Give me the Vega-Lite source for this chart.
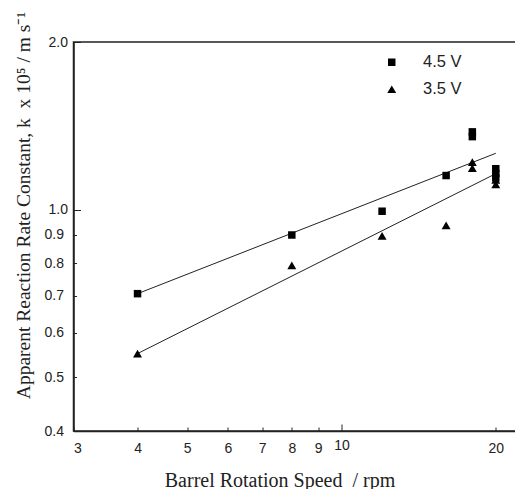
{
  "$schema": "https://vega.github.io/schema/vega-lite/v6.json",
  "width": 443.5,
  "height": 389,
  "autosize": {"type": "none"},
  "padding": {"left": 73.5, "top": 42, "right": 0, "bottom": 58},
  "background": "white",
  "config": {
    "view": {"stroke": "#222", "strokeWidth": 1.5},
    "axis": {
      "domainColor": "#222",
      "domainWidth": 1.5,
      "ticks": true,
      "tickColor": "#222",
      "tickWidth": 1,
      "grid": false,
      "labelFont": "Liberation Sans",
      "labelFontSize": 14,
      "labelColor": "#222",
      "titleFont": "Liberation Serif",
      "titleFontWeight": "normal",
      "titleColor": "#222"
    }
  },
  "datasets": {
    "points": [
      {"series": "4.5 V", "rpm": 4, "k": 0.706},
      {"series": "4.5 V", "rpm": 8, "k": 0.90},
      {"series": "4.5 V", "rpm": 12, "k": 0.993},
      {"series": "4.5 V", "rpm": 16, "k": 1.151},
      {"series": "4.5 V", "rpm": 18, "k": 1.379},
      {"series": "4.5 V", "rpm": 18, "k": 1.352},
      {"series": "4.5 V", "rpm": 20, "k": 1.184},
      {"series": "4.5 V", "rpm": 20, "k": 1.16},
      {"series": "4.5 V", "rpm": 20, "k": 1.14},
      {"series": "3.5 V", "rpm": 4, "k": 0.551},
      {"series": "3.5 V", "rpm": 8, "k": 0.794},
      {"series": "3.5 V", "rpm": 12, "k": 0.897},
      {"series": "3.5 V", "rpm": 16, "k": 0.937},
      {"series": "3.5 V", "rpm": 18, "k": 1.217},
      {"series": "3.5 V", "rpm": 18, "k": 1.187},
      {"series": "3.5 V", "rpm": 20, "k": 1.13},
      {"series": "3.5 V", "rpm": 20, "k": 1.11}
    ],
    "fits": [
      {"series": "4.5 V", "rpm": 4, "k": 0.706},
      {"series": "4.5 V", "rpm": 20, "k": 1.262},
      {"series": "3.5 V", "rpm": 4, "k": 0.551},
      {"series": "3.5 V", "rpm": 20, "k": 1.16}
    ]
  },
  "encoding": {
    "x": {
      "field": "rpm",
      "type": "quantitative",
      "scale": {"type": "log", "domain": [3, 22], "nice": false},
      "axis": {
        "title": "Barrel Rotation Speed\u00a0 / rpm",
        "titleFontSize": 20,
        "values": [3, 4, 5, 6, 7, 8, 9, 10, 20],
        "format": "d",
        "tickSize": {"condition": {"test": "datum.value === 10", "value": -7}, "value": -4},
        "labelPadding": 14,
        "titleX": 206,
        "titleY": 55,
        "titleBaseline": "alphabetic",
        "titleAnchor": "middle",
        "titleAlign": "center"
      }
    },
    "y": {
      "field": "k",
      "type": "quantitative",
      "scale": {"type": "log", "domain": [0.4, 2.0], "nice": false},
      "axis": {
        "title": "Apparent Reaction Rate Constant, k\u00a0 x 10⁵ / m s⁻¹",
        "titleFontSize": 19.5,
        "values": [0.4, 0.5, 0.6, 0.7, 0.8, 0.9, 1.0, 2.0],
        "format": ".1f",
        "tickSize": {"condition": {"test": "datum.value === 1 || datum.value === 2", "value": -7}, "value": -3},
        "labelPadding": 13,
        "titleAngle": 270,
        "titleX": -50,
        "titleY": 163,
        "titleBaseline": "middle",
        "titleAlign": "center",
        "titleAnchor": "middle"
      }
    }
  },
  "layer": [
    {
      "data": {"name": "fits"},
      "mark": {"type": "line", "color": "#222", "strokeWidth": 1},
      "encoding": {"detail": {"field": "series", "type": "nominal"}}
    },
    {
      "data": {"name": "points"},
      "mark": {"type": "point", "filled": true, "color": "black", "opacity": 1},
      "encoding": {
        "size": {
          "field": "series",
          "type": "nominal",
          "scale": {"domain": ["4.5 V", "3.5 V"], "range": [56, 80]},
          "legend": {
            "title": null,
            "orient": "none",
            "legendX": 310,
            "legendY": 12,
            "labelFont": "Liberation Sans",
            "labelFontSize": 16.5,
            "labelColor": "#222",
            "labelOffset": 23,
            "rowPadding": 10,
            "symbolFillColor": "black",
            "symbolStrokeColor": "black"
          }
        },
        "shape": {
          "field": "series",
          "type": "nominal",
          "scale": {"domain": ["4.5 V", "3.5 V"], "range": ["square", "triangle-up"]},
          "legend": {
            "title": null,
            "orient": "none",
            "legendX": 310,
            "legendY": 12,
            "labelFont": "Liberation Sans",
            "labelFontSize": 16.5,
            "labelColor": "#222",
            "labelOffset": 23,
            "rowPadding": 10,
            "symbolFillColor": "black",
            "symbolStrokeColor": "black"
          }
        }
      }
    }
  ]
}
